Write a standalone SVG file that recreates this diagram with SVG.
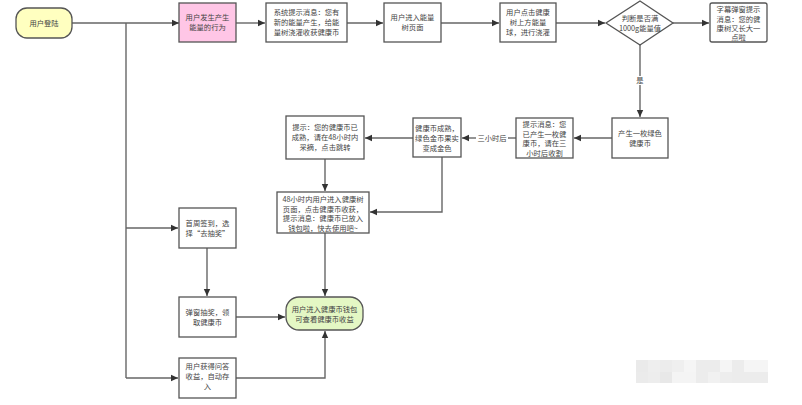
<svg xmlns="http://www.w3.org/2000/svg" width="802" height="405" viewBox="0 0 802 405">
<defs>
<marker id="ah" markerWidth="8" markerHeight="8" refX="7" refY="4" orient="auto" markerUnits="userSpaceOnUse">
<path d="M0,0.8 L7,4 L0,7.2 Z" fill="#333"/>
</marker>
<style>
.b{fill:#fff;stroke:#555;stroke-width:1.3}
.t{font-family:"Noto Sans CJK SC","Noto Sans",sans-serif;font-size:7.3px;fill:#444;text-anchor:middle}
.c{fill:none;stroke:#666;stroke-width:1.4}
.a{marker-end:url(#ah)}
</style>
</defs>
<rect width="802" height="405" fill="#fff"/>
<g id="connectors">
<path class="c a" d="M72,23 H179"/>
<path class="c" d="M126,23 V378"/>
<path class="c a" d="M236,23 H265"/>
<path class="c a" d="M347,23 H383"/>
<path class="c a" d="M441,23 H499"/>
<path class="c a" d="M556,23 H605"/>
<path class="c a" d="M673,23 H709"/>
<path class="c a" d="M640,45 V117"/>
<path class="c a" d="M612,138 H574"/>
<path class="c" d="M516,138 H508"/>
<path class="c a" d="M476,138 H462"/>
<path class="c a" d="M413,138 H365"/>
<path class="c a" d="M325,159 V191"/>
<path class="c a" d="M442,157 V212 H370"/>
<path class="c a" d="M325,233 V296"/>
<path class="c a" d="M126,228 H178"/>
<path class="c a" d="M207,248 V296"/>
<path class="c a" d="M236,317 H285"/>
<path class="c a" d="M126,378 H178"/>
<path class="c a" d="M236,378 H325 V331"/>
<rect x="636" y="76" width="8" height="9" fill="#fff"/>
<text class="t" x="640" y="83">是</text>
<text class="t" x="492" y="141">三小时后</text>
</g>
<g id="n1"><rect x="16" y="8" width="56" height="30" rx="11" fill="#ffffc0" stroke="#555" stroke-width="1.3"/><text class="t" x="44" y="26">用户登陆</text></g>
<g id="n2"><rect x="179" y="3" width="57" height="39" fill="#ffc6e6" stroke="#555" stroke-width="1.3"/><text class="t" x="207.5" y="20">用户发生产生</text><text class="t" x="207.5" y="30">能量的行为</text></g>
<g id="n3"><rect class="b" x="266" y="3" width="81" height="39"/><text class="t" x="306.5" y="15">系统提示消息：您有</text><text class="t" x="306.5" y="25">新的能量产生，给能</text><text class="t" x="306.5" y="35">量树浇灌收获健康币</text></g>
<g id="n4"><rect class="b" x="384" y="3" width="57" height="39"/><text class="t" x="412.5" y="20">用户进入能量</text><text class="t" x="412.5" y="30">树页面</text></g>
<g id="n5"><rect class="b" x="500" y="3" width="56" height="39"/><text class="t" x="528" y="15">用户点击健康</text><text class="t" x="528" y="25">树上方能量</text><text class="t" x="528" y="35">球，进行浇灌</text></g>
<g id="n6"><path class="b" d="M640,1 L673,23 L640,45 L606,23 Z"/><text class="t" x="640" y="21">判断是否满</text><text class="t" x="640" y="31">1000g能量值</text></g>
<g id="n7"><rect class="b" x="710" y="3" width="57" height="39" rx="2"/><text class="t" x="738.5" y="12">字幕弹窗提示</text><text class="t" x="738.5" y="21.5">消息：您的健</text><text class="t" x="738.5" y="31">康树又长大一</text><text class="t" x="738.5" y="40">点啦</text></g>
<g id="n8"><rect class="b" x="612" y="118" width="56" height="40"/><text class="t" x="640" y="136">产生一枚绿色</text><text class="t" x="640" y="146">健康币</text></g>
<g id="n9"><rect class="b" x="516" y="118" width="57" height="40"/><text class="t" x="544.5" y="127">提示消息：您</text><text class="t" x="544.5" y="136.5">已产生一枚健</text><text class="t" x="544.5" y="146">康币，请在三</text><text class="t" x="544.5" y="155.5">小时后收割</text></g>
<g id="n10"><rect class="b" x="413" y="118" width="48" height="39"/><text class="t" x="437" y="131">健康币成熟，</text><text class="t" x="437" y="141">绿色金币果实</text><text class="t" x="437" y="151">变成金色</text></g>
<g id="n11"><rect class="b" x="286" y="116" width="78" height="43"/><text class="t" x="325" y="130">提示：您的健康币已</text><text class="t" x="325" y="140">成熟，请在48小时内</text><text class="t" x="325" y="150">采摘，点击跳转</text></g>
<g id="n12"><rect class="b" x="277" y="192" width="92" height="41"/><text class="t" x="323" y="202">48小时内用户进入健康树</text><text class="t" x="323" y="211.5">页面，点击健康币收获，</text><text class="t" x="323" y="221">提示消息：健康币已放入</text><text class="t" x="323" y="230.5">钱包啦，快去使用吧~</text></g>
<g id="n13"><rect class="b" x="179" y="208" width="57" height="40"/><text class="t" x="207.5" y="226">首周签到，选</text><text class="t" x="207.5" y="236">择“去抽奖”</text></g>
<g id="n14"><rect class="b" x="179" y="297" width="57" height="40"/><text class="t" x="207.5" y="315">弹窗抽奖，领</text><text class="t" x="207.5" y="325">取健康币</text></g>
<g id="n15"><rect class="b" x="179" y="358" width="57" height="40"/><text class="t" x="207.5" y="369">用户获得问答</text><text class="t" x="207.5" y="379">收益，自动存</text><text class="t" x="207.5" y="389">入</text></g>
<g id="n16"><rect x="286" y="297" width="77" height="33" rx="13" fill="#e4f7c4" stroke="#555" stroke-width="1.3"/><text class="t" x="324.5" y="312">用户进入健康币钱包</text><text class="t" x="324.5" y="322">可查看健康币收益</text></g>
<g id="watermark" opacity="0.9">
<rect x="636" y="360" width="12" height="12" fill="#e8e8e8"/><rect x="648" y="360" width="12" height="12" fill="#ededed"/><rect x="660" y="360" width="12" height="12" fill="#ebebeb"/><rect x="672" y="360" width="12" height="12" fill="#eeeeee"/><rect x="684" y="360" width="12" height="12" fill="#f5f5f5"/><rect x="696" y="360" width="24" height="12" fill="#eaeaea"/><rect x="720" y="360" width="12" height="12" fill="#f4f4f4"/><rect x="732" y="360" width="12" height="12" fill="#ebebeb"/><rect x="744" y="360" width="24" height="12" fill="#f4f4f4"/>
<rect x="636" y="372" width="12" height="11" fill="#e9e9e9"/><rect x="648" y="372" width="12" height="11" fill="#ececec"/><rect x="660" y="372" width="12" height="11" fill="#e6e6e6"/><rect x="672" y="372" width="24" height="11" fill="#f3f3f3"/><rect x="696" y="372" width="12" height="11" fill="#eaeaea"/><rect x="708" y="372" width="12" height="11" fill="#f0f0f0"/><rect x="720" y="372" width="12" height="11" fill="#ececec"/><rect x="732" y="372" width="36" height="11" fill="#ebebeb"/>
</g>
</svg>
